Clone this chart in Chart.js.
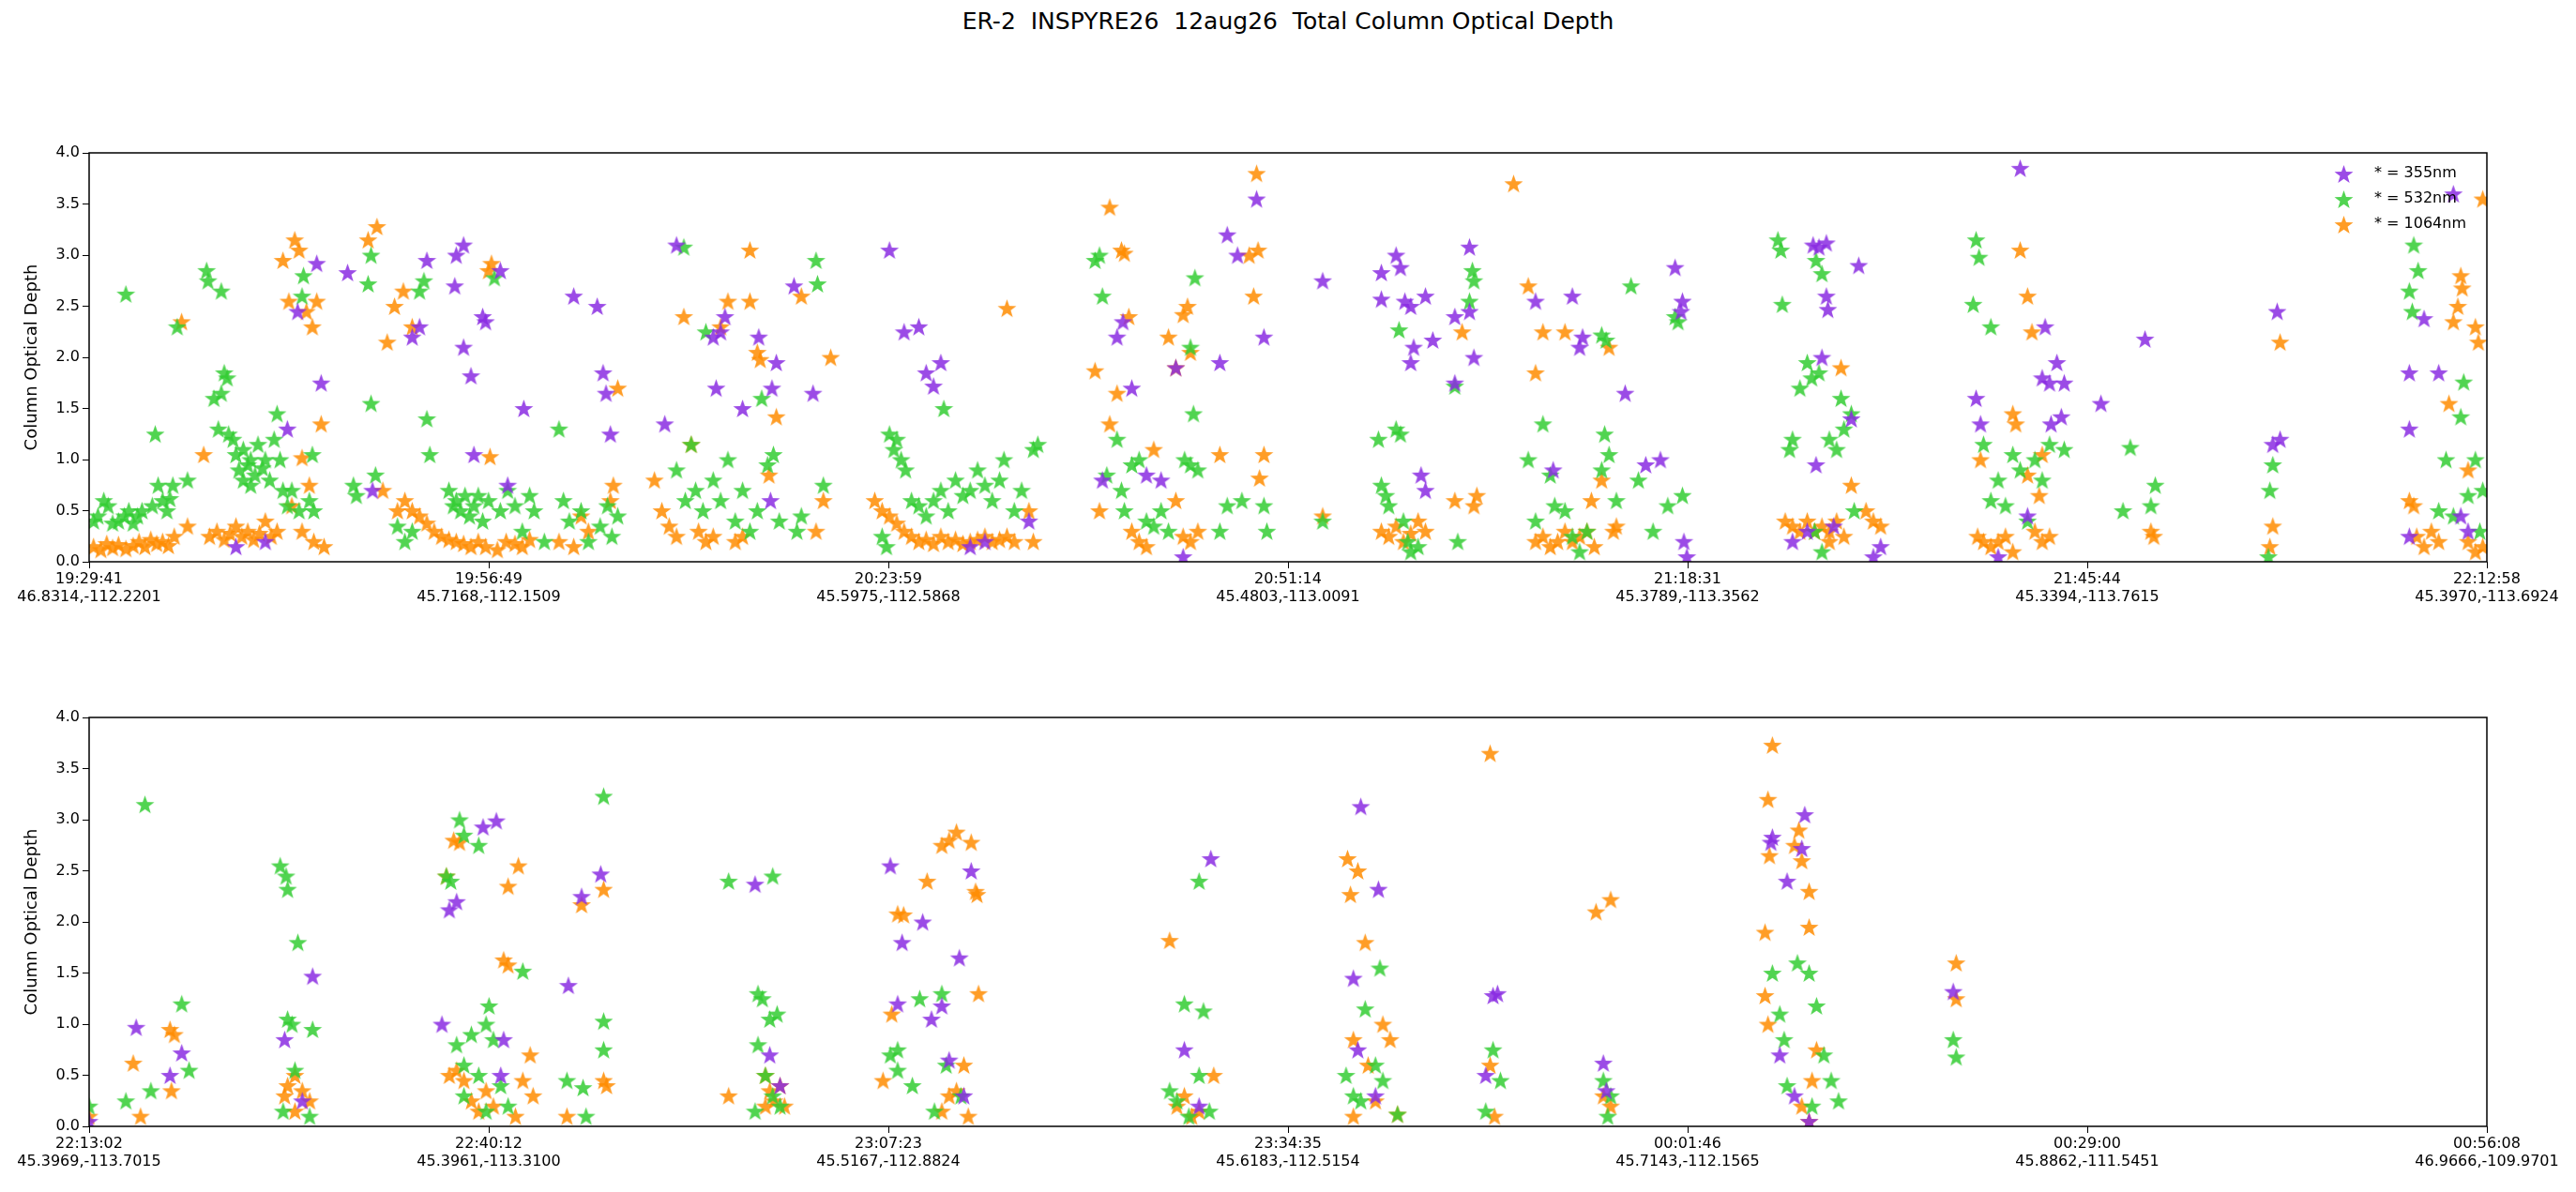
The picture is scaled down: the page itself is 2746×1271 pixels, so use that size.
<!DOCTYPE html>
<html>
<head>
<meta charset="utf-8">
<script src="https://cdn.jsdelivr.net/npm/chart.js@4"></script>
<style>
  body { margin: 0; background: #fff; width: 2746px; height: 1271px; overflow: hidden; position: relative; font-family: "DejaVu Sans", sans-serif; }
  #titulo { position: absolute; top: 8px; left: 0; width: 2746px; text-align: center; font-size: 25px; color: #000; white-space: pre; }
  .panel { position: absolute; left: 0; width: 2746px; }
</style>
</head>
<body>
<div id="titulo">ER-2  INSPYRE26  12aug26  Total Column Optical Depth</div>
<div class="panel" style="top:150px;height:560px"><canvas id="graficoArriba"></canvas></div>
<div class="panel" style="top:750px;height:521px"><canvas id="graficoAbajo"></canvas></div>
<script>
// Eje X en minutos desde el inicio de cada tramo
const ticksArriba = [['19:29:41','46.8314,-112.2201'],['19:56:49','45.7168,-112.1509'],['20:23:59','45.5975,-112.5868'],['20:51:14','45.4803,-113.0091'],['21:18:31','45.3789,-113.3562'],['21:45:44','45.3394,-113.7615'],['22:12:58','45.3970,-113.6924']];
const ticksAbajo = [['22:13:02','45.3969,-113.7015'],['22:40:12','45.3961,-113.3100'],['23:07:23','45.5167,-112.8824'],['23:34:35','45.6183,-112.5154'],['00:01:46','45.7143,-112.1565'],['00:29:00','45.8862,-111.5451'],['00:56:08','46.9666,-109.9701']];
const duracionArriba = 163.28;
const duracionAbajo = 163.1;
const etiquetas = ['* = 355nm', '* = 532nm', '* = 1064nm'];

// Tramo 1 (19:29:41 - 22:12:58): [minuto, profundidad óptica]
const violeta1 = [[10,0.15],[12,0.2],[13.5,1.3],[14.2,2.45],[15.5,2.92],[15.8,1.75],[17.6,2.83],[19.3,0.7],[22,2.2],[22.5,2.3],[23,2.95],[24.9,2.7],[25,3.0],[25.5,3.1],[25.5,2.1],[26,1.82],[26.2,1.05],[26.8,2.4],[27,2.35],[28,2.85],[28.5,0.75],[29.6,1.5],[33,2.6],[34.6,2.5],[35,1.85],[35.2,1.65],[35.5,1.25],[39.2,1.35],[40,3.1],[42.5,2.2],[43,2.25],[43.3,2.4],[42.7,1.7],[44.5,1.5],[45.6,2.2],[46.4,0.6],[46.8,1.95],[46.5,1.7],[48,2.7],[49.3,1.65],[54.5,3.05],[55.5,2.25],[56.5,2.3],[57,1.85],[57.5,1.72],[58,1.95],[60,0.15],[61,0.2],[64,0.4],[69,0.8],[70,2.2],[70.4,2.35],[71,1.7],[72,0.85],[73,0.8],[74,1.9],[74.5,0.05],[77,1.95],[77.5,3.2],[78.2,3.0],[79.5,3.55],[80,2.2],[84,2.75],[88,2.83],[88,2.57],[89,3.0],[89.3,2.88],[89.6,2.55],[90,2.5],[90,1.95],[90.2,2.1],[91,2.6],[91,0.7],[90.7,0.85],[91.5,2.17],[93,1.75],[93,2.4],[94,3.08],[94,2.45],[94.3,2.0],[98.5,2.55],[99.7,0.9],[101,2.6],[101.5,2.1],[101.7,2.2],[104.6,1.65],[106,0.95],[107,1.0],[108,2.88],[108.4,2.45],[108.5,2.55],[108.6,0.2],[108.8,0.05],[116,0.2],[117,0.3],[117.4,3.1],[117.8,3.08],[118.3,3.12],[118,2.0],[118.3,2.6],[118.4,2.47],[117.6,0.95],[120,1.4],[120.5,2.9],[118.8,0.35],[121.5,0.05],[122,0.15],[128.5,1.6],[128.8,1.35],[130,0.05],[132,0.45],[131.5,3.85],[133,1.8],[133.2,2.3],[133.5,1.75],[133.6,1.35],[134,1.95],[134.5,1.75],[134.3,1.42],[137,1.55],[140,2.18],[149,2.45],[149.2,1.2],[148.7,1.15],[158,1.3],[158,1.85],[158,0.25],[159,2.38],[160,1.85],[161,3.6],[162,0.3],[161.5,0.45]];
const verde1 = [[0.3,0.4],[0.6,0.45],[1,0.6],[1.3,0.55],[1.6,0.38],[2,0.4],[2.4,0.45],[2.7,0.5],[3,0.38],[3.3,0.45],[3.6,0.5],[2.5,2.62],[4.3,0.55],[4.5,1.25],[4.7,0.75],[5,0.6],[5.3,0.5],[5.5,0.62],[5.7,0.75],[6,2.3],[6.7,0.8],[8,2.85],[8.1,2.75],[9,2.65],[8.5,1.6],[9,1.65],[9.2,1.85],[9.4,1.8],[8.8,1.3],[9.5,1.25],[9.8,1.2],[10,1.05],[10.2,0.9],[10.5,1.1],[10.8,0.95],[11,1.0],[11.3,0.85],[11.5,1.15],[11.8,0.92],[12,1.0],[12.3,0.8],[12.6,1.2],[12.8,1.45],[13,1.0],[10.5,0.8],[11,0.75],[13.2,0.7],[13.5,0.55],[13.8,0.7],[14.3,0.5],[14.5,2.6],[14.6,2.8],[15,0.6],[15.2,1.05],[15.3,0.5],[18,0.75],[18.2,0.65],[19,2.72],[19.2,3.0],[19.2,1.55],[19.5,0.85],[21,0.35],[21.5,0.2],[22,0.3],[22.5,2.65],[22.8,2.75],[23,1.4],[23.2,1.05],[24.5,0.7],[24.8,0.55],[25,0.6],[25.3,0.5],[25.6,0.65],[25.9,0.45],[26.2,0.55],[26.5,0.65],[26.8,0.4],[27.2,0.6],[27.6,2.78],[28,0.5],[28.5,0.7],[29,0.55],[29.5,0.3],[30,0.65],[30.3,0.5],[31,0.2],[32,1.3],[32.3,0.6],[32.7,0.4],[33.5,0.5],[34,0.2],[34.8,0.35],[35.3,0.55],[35.6,0.25],[36,0.45],[40.5,3.08],[40,0.9],[40.6,0.6],[41,1.15],[41.3,0.7],[41.8,0.5],[42,2.25],[42.5,0.8],[43,0.6],[43.5,1.0],[44,0.4],[44.5,0.7],[45,0.3],[45.5,0.5],[45.8,1.6],[46.2,0.95],[46.6,1.05],[47,0.4],[48.2,0.3],[48.5,0.45],[49.5,2.95],[49.6,2.72],[50,0.75],[54,0.25],[54.3,0.15],[54.5,1.25],[54.8,1.1],[55,1.2],[55.3,1.0],[55.6,0.9],[56,0.6],[56.5,0.55],[57,0.45],[57.5,0.6],[58,0.7],[58.5,0.5],[58.2,1.5],[59,0.8],[59.5,0.65],[60,0.7],[60.5,0.9],[61,0.75],[61.5,0.6],[62,0.8],[62.3,1.0],[63,0.5],[63.5,0.7],[64.3,1.1],[64.6,1.15],[68.5,2.95],[68.8,3.0],[69,2.6],[69.3,0.85],[70,1.2],[70.3,0.7],[70.5,0.5],[71,0.95],[71.5,1.0],[72,0.4],[72.5,0.35],[73,0.5],[73.5,0.3],[75,2.1],[75.3,2.78],[75.2,1.45],[74.6,1.0],[75,0.95],[75.5,0.9],[77,0.3],[77.5,0.55],[78.5,0.6],[80,0.55],[80.2,0.3],[84,0.4],[87.8,1.2],[88,0.75],[88.3,0.65],[88.5,0.55],[89,1.3],[89.3,1.25],[89.5,0.4],[89.8,0.2],[90,0.1],[90.5,0.15],[89.2,2.27],[93,1.72],[93.2,0.2],[94.3,2.75],[94.2,2.85],[94,2.55],[98,1.0],[98.5,0.4],[99,1.35],[99.5,0.85],[99.8,0.55],[100.5,0.5],[101,0.25],[101.5,0.1],[102,0.3],[103,2.22],[103.3,2.17],[103.2,1.25],[103,0.9],[103.5,1.05],[104,0.6],[105,2.7],[105.5,0.8],[106.5,0.3],[107.5,0.55],[108,2.4],[108.2,2.35],[108.5,0.65],[115,3.15],[115.2,3.05],[115.3,2.52],[115.8,1.1],[116,1.2],[116.5,1.7],[117,1.95],[117.6,2.95],[118,2.82],[117.3,1.8],[117.8,1.85],[118.5,1.2],[119,1.1],[119.3,1.6],[119.5,1.3],[120,1.45],[120.2,0.5],[117.5,0.3],[118,0.1],[128.5,3.15],[128.7,2.98],[128.3,2.52],[129.5,2.3],[129,1.15],[129.5,0.6],[130,0.8],[130.5,0.55],[131,1.05],[131.5,0.9],[132,0.4],[132.5,1.0],[133,0.8],[133.5,1.15],[134.5,1.1],[139,1.12],[138.5,0.5],[140.7,0.75],[140.4,0.55],[148.5,0.7],[148.7,0.95],[148.4,0.05],[158,2.65],[158.2,2.45],[158.3,3.1],[158.6,2.85],[160,0.5],[160.5,1.0],[161.5,1.42],[161.7,1.76],[162,0.65],[162.5,1.0],[161,0.45],[162.8,0.3],[163,0.7]];
const naranja1 = [[0.3,0.15],[0.8,0.12],[1.2,0.18],[1.6,0.14],[2,0.17],[2.5,0.13],[3,0.16],[3.4,0.2],[3.8,0.15],[4.2,0.22],[4.6,0.18],[5,0.2],[5.4,0.16],[5.8,0.25],[6.3,2.35],[6.7,0.35],[7.8,1.05],[8.2,0.25],[8.7,0.3],[9.2,0.22],[9.6,0.28],[10,0.35],[10.4,0.25],[10.8,0.3],[11.2,0.22],[11.6,0.28],[12,0.4],[12.4,0.25],[12.8,0.3],[13.2,2.95],[13.6,2.55],[14,3.15],[14.3,3.05],[14.8,2.45],[15.2,2.3],[15.5,2.55],[14.5,1.02],[15,0.75],[15.8,1.35],[13.8,0.55],[14.5,0.3],[15.3,0.2],[16,0.15],[19,3.15],[19.6,3.28],[20.3,2.15],[20.8,2.5],[21.4,2.65],[22,2.3],[20,0.7],[21,0.5],[21.5,0.6],[22,0.5],[22.5,0.45],[23,0.38],[23.5,0.3],[24,0.25],[24.5,0.22],[25,0.2],[25.5,0.18],[26,0.15],[26.5,0.2],[27,0.15],[27.3,1.03],[27.4,2.92],[27.2,2.85],[27.8,0.12],[28.4,0.2],[29,0.18],[29.5,0.15],[30,0.22],[32,0.2],[33,0.15],[33.5,0.45],[34,0.3],[35.5,0.6],[35.7,0.75],[36,1.7],[38.5,0.8],[39,0.5],[39.5,0.35],[40,0.25],[40.5,2.4],[41,1.15],[41.5,0.3],[42,0.2],[42.5,0.25],[43,2.3],[43.5,2.55],[44,0.2],[44.5,0.25],[45,3.05],[45,2.55],[45.5,2.05],[45.7,1.98],[46.3,0.85],[46.8,1.42],[48.5,2.6],[50.5,2.0],[50,0.6],[49.5,0.3],[53.5,0.6],[54,0.5],[54.5,0.45],[55,0.38],[55.5,0.3],[56,0.25],[56.5,0.2],[57,0.22],[57.5,0.18],[58,0.25],[58.5,0.2],[59,0.22],[59.5,0.18],[60,0.2],[60.5,0.22],[61,0.25],[61.5,0.2],[62,0.22],[62.5,0.25],[63,0.2],[62.5,2.48],[64,0.5],[64.3,0.2],[68.5,1.87],[68.8,0.5],[69.5,1.35],[70,1.65],[70.5,3.02],[70.3,3.05],[69.5,3.47],[70.8,2.4],[71,0.3],[71.5,0.2],[72,0.15],[72.5,1.1],[73.5,2.2],[74,1.9],[74.5,2.42],[74.8,2.5],[75,2.05],[74,0.6],[74.5,0.25],[75,0.2],[75.5,0.3],[77,1.05],[79,3.0],[79.3,2.6],[79.5,3.8],[79.7,0.82],[80,1.05],[79.6,3.05],[84,0.45],[88,0.3],[88.5,0.25],[89,0.35],[89.5,0.2],[90,0.28],[90.5,0.4],[91,0.3],[93,0.6],[93.5,2.25],[94.5,0.65],[94.3,0.55],[98,2.7],[98.5,1.85],[99,2.25],[98.5,0.2],[99,0.25],[99.5,0.15],[100,0.2],[100.5,0.3],[100.5,2.25],[101,0.2],[101.5,0.25],[102,0.3],[102.5,0.15],[102.3,0.6],[103,0.8],[103.5,2.1],[103.8,0.3],[104,0.35],[97,3.7],[115.5,0.4],[116,0.35],[116.5,0.3],[117,0.4],[117.5,0.3],[118,0.35],[118.5,0.3],[119,0.4],[119.3,1.9],[120,0.75],[121,0.5],[121.5,0.4],[122,0.35],[118.5,0.2],[119.5,0.25],[128.6,0.25],[128.8,1.0],[129,0.2],[129.5,0.15],[130,0.2],[130.5,0.25],[131,0.1],[131.5,3.05],[131,1.45],[131.2,1.35],[132,2.6],[132.3,2.25],[132,0.85],[133,1.05],[132.8,0.65],[132.5,0.3],[133,0.2],[133.5,0.25],[140.4,0.3],[140.6,0.25],[148.7,0.35],[148.5,0.15],[149.2,2.15],[158,0.6],[158.3,0.55],[158.5,0.25],[159,0.15],[159.5,0.3],[160,0.2],[160.7,1.55],[161,2.35],[161.3,2.5],[161.6,2.68],[161.5,2.8],[162,0.9],[162.5,2.3],[162.7,2.15],[163,3.55],[162,0.2],[162.5,0.1],[163,0.15]];

// Tramo 2 (22:13:02 - 00:56:08)
const violeta2 = [[0,0.05],[3.2,0.97],[5.5,0.5],[6.3,0.72],[13.3,0.85],[14.5,0.25],[15.2,1.47],[24,1.0],[24.5,2.12],[25,2.2],[26.8,2.93],[27.7,2.99],[28,0.5],[28.2,0.85],[32.6,1.38],[33.5,2.25],[34.8,2.47],[45.3,2.37],[46.3,0.7],[47,0.4],[54.5,2.55],[55,1.2],[55.3,1.8],[56.7,2.0],[57.3,1.05],[58,1.18],[58.5,0.65],[59.2,1.65],[60,2.5],[59.5,0.3],[74.5,0.75],[76.3,2.62],[75.5,0.2],[86,1.45],[86.5,3.13],[87.7,2.32],[86.3,0.75],[87.5,0.3],[95,0.5],[95.5,1.28],[95.8,1.3],[103,0.62],[103.2,0.35],[114.5,2.83],[114.4,2.78],[115.5,2.4],[116.5,2.72],[116.7,3.05],[115,0.7],[116,0.3],[117,0.05],[126.8,1.32]];
const verde2 = [[0,0.2],[2.5,0.25],[3.8,3.15],[4.2,0.35],[6.3,1.2],[6.8,0.55],[13,2.55],[13.4,2.45],[13.5,2.32],[14.2,1.8],[13.5,1.05],[13.8,1.0],[14,0.55],[13.2,0.15],[15.2,0.95],[15,0.1],[24.3,2.45],[24.6,2.4],[25.2,3.0],[25.5,2.85],[26.5,2.75],[25,0.8],[25.5,0.6],[26,0.9],[26.5,0.5],[27,1.0],[27.2,1.18],[27.5,0.85],[28,0.4],[28.5,0.2],[29.5,1.52],[25.5,0.3],[27,0.15],[32.5,0.45],[33.6,0.38],[33.8,0.1],[35,3.23],[35,1.03],[35,0.75],[43.5,2.4],[46.5,2.45],[45.5,1.3],[45.8,1.25],[46.3,1.05],[46.8,1.1],[45.5,0.8],[46,0.5],[46.5,0.3],[45.3,0.15],[47,0.2],[54.5,0.7],[55,0.75],[56.5,1.25],[58,1.3],[55,0.55],[56,0.4],[57.5,0.15],[58.3,0.6],[59.3,0.3],[73.5,0.35],[74,0.25],[74.5,1.2],[75.5,2.4],[75.8,1.13],[75.5,0.5],[74.8,0.1],[76.2,0.15],[85.5,0.5],[86,0.3],[86.8,1.15],[87.8,1.55],[86.5,0.25],[87.5,0.6],[88,0.45],[89,0.12],[95,0.15],[95.5,0.75],[96,0.45],[103,0.45],[103.5,0.3],[103.3,0.1],[114.5,1.5],[115,1.1],[115.3,0.85],[115.5,0.4],[116.2,1.6],[117,1.5],[117.5,1.18],[118,0.7],[118.5,0.45],[119,0.25],[117.2,0.2],[126.8,0.85],[127,0.68]];
const naranja2 = [[0,0.1],[3,0.62],[3.5,0.1],[5.5,0.95],[5.8,0.9],[5.6,0.35],[13.3,0.3],[13.5,0.4],[14,0.5],[14.5,0.35],[15,0.25],[14,0.15],[24.3,2.45],[24.8,2.8],[25.2,2.78],[24.5,0.5],[25,0.55],[25.5,0.45],[26,0.25],[26.5,0.15],[27,0.35],[27.5,0.2],[28.2,1.63],[28.5,1.58],[28.5,2.35],[29.2,2.55],[29.5,0.45],[30,0.7],[30.2,0.3],[29,0.1],[32.5,0.1],[33.5,2.17],[35,2.32],[35,0.45],[35.2,0.4],[43.5,0.3],[46,0.5],[46.3,0.35],[46.6,0.25],[47,0.4],[47.3,0.2],[46,0.2],[54,0.45],[54.6,1.1],[55,2.08],[55.4,2.07],[57,2.4],[58,2.75],[58.5,2.8],[59,2.88],[60,2.78],[60.3,2.3],[60.4,2.27],[60.5,1.3],[58.5,0.3],[59,0.35],[59.5,0.6],[58,0.15],[59.8,0.1],[73.5,1.82],[74,0.2],[74.5,0.3],[75,0.1],[75.5,0.15],[76.5,0.5],[85.6,2.62],[85.8,2.27],[86.3,2.5],[86.8,1.8],[86,0.85],[87,0.6],[87.5,0.25],[88,1.0],[88.5,0.85],[86,0.1],[89,0.12],[95.3,3.65],[95.3,0.6],[95.6,0.1],[102.5,2.1],[103.5,2.22],[103,0.3],[103.5,0.2],[114,1.9],[114.2,3.2],[114.3,2.65],[114.5,3.73],[114,1.28],[114.2,1.0],[116,2.75],[116.3,2.9],[116.5,2.6],[117,2.3],[117,1.95],[117.5,0.75],[117.2,0.45],[116.5,0.2],[117,0.05],[127,1.6],[127,1.25]];

const colores = ['rgba(138,43,226,0.85)', 'rgba(50,205,50,0.85)', 'rgba(255,140,0,0.85)'];

// Estrella rellena de cinco puntas como imagen para pointStyle
function crearEstrella(color, tam) {
  const c = document.createElement('canvas');
  c.width = tam; c.height = tam;
  const ctx = c.getContext('2d');
  const r = tam / 2, ri = r * 0.4;
  ctx.beginPath();
  for (let i = 0; i < 10; i++) {
    const rad = i % 2 === 0 ? r : ri;
    const a = -Math.PI / 2 + i * Math.PI / 5;
    const px = r + rad * Math.cos(a), py = r + 1 + rad * Math.sin(a);
    i === 0 ? ctx.moveTo(px, py) : ctx.lineTo(px, py);
  }
  ctx.closePath();
  ctx.fillStyle = color;
  ctx.fill();
  return c;
}
const estrellas = colores.map(c => crearEstrella(c, 21));

const marco = {
  id: 'marco',
  afterDraw(chart, args, opts) {
    const { ctx, chartArea: a } = chart;
    ctx.save();
    ctx.strokeStyle = '#000';
    ctx.lineWidth = 1.5;
    ctx.strokeRect(a.left, a.top, a.right - a.left, a.bottom - a.top);
    if (opts.leyenda) {
      ctx.font = '16px "DejaVu Sans"';
      ctx.fillStyle = '#000';
      ctx.textBaseline = 'middle';
      etiquetas.forEach((t, i) => {
        const y = a.top + 22 + i * 27;
        ctx.drawImage(estrellas[i], a.right - 163, y - 10);
        ctx.fillText(t, a.right - 120, y);
      });
    }
    ctx.restore();
  }
};

function crearGrafico(id, series, ticks, duracion, padTop, altoX, leyenda) {
  new Chart(document.getElementById(id), {
    type: 'scatter',
    data: {
      datasets: series.map((s, i) => ({
        label: etiquetas[i],
        data: s.map(p => ({ x: p[0], y: p[1] })),
        pointStyle: estrellas[i],
        pointRadius: 10,
        pointHoverRadius: 10
      }))
    },
    plugins: [marco],
    options: {
      responsive: true,
      maintainAspectRatio: false,
      animation: false,
      layout: { padding: { top: padTop, right: 95, left: 0, bottom: 0 } },
      plugins: { legend: { display: false }, tooltip: { enabled: false }, marco: { leyenda } },
      scales: {
        x: {
          type: 'linear', min: 0, max: duracion,
          afterBuildTicks: ax => { ax.ticks = ticks.map((t, i) => ({ value: i * duracion / 6 })); },
          afterFit: ax => { ax.height = altoX; },
          grid: { display: true, drawOnChartArea: false, tickLength: 7, color: '#000' },
          border: { display: false },
          ticks: {
            autoSkip: false, maxRotation: 0, color: '#000', padding: 2,
            font: { family: 'DejaVu Sans', size: 16 },
            callback: (v, i) => ticks[i]
          }
        },
        y: {
          min: 0, max: 4,
          afterFit: ax => { ax.width = 95; },
          grid: { display: true, drawOnChartArea: false, tickLength: 7, color: '#000' },
          border: { display: false },
          ticks: { stepSize: 0.5, color: '#000', padding: 3, font: { family: 'DejaVu Sans', size: 16 }, callback: v => v.toFixed(1) },
          title: { display: true, text: 'Column Optical Depth', color: '#000', font: { family: 'DejaVu Sans', size: 18 }, padding: { top: 24, bottom: 4 } }
        }
      }
    }
  });
}

crearGrafico('graficoArriba', [violeta1, verde1, naranja1], ticksArriba, duracionArriba, 13, 111, true);
crearGrafico('graficoAbajo', [violeta2, verde2, naranja2], ticksAbajo, duracionAbajo, 15, 70, false);
</script>
</body>
</html>
